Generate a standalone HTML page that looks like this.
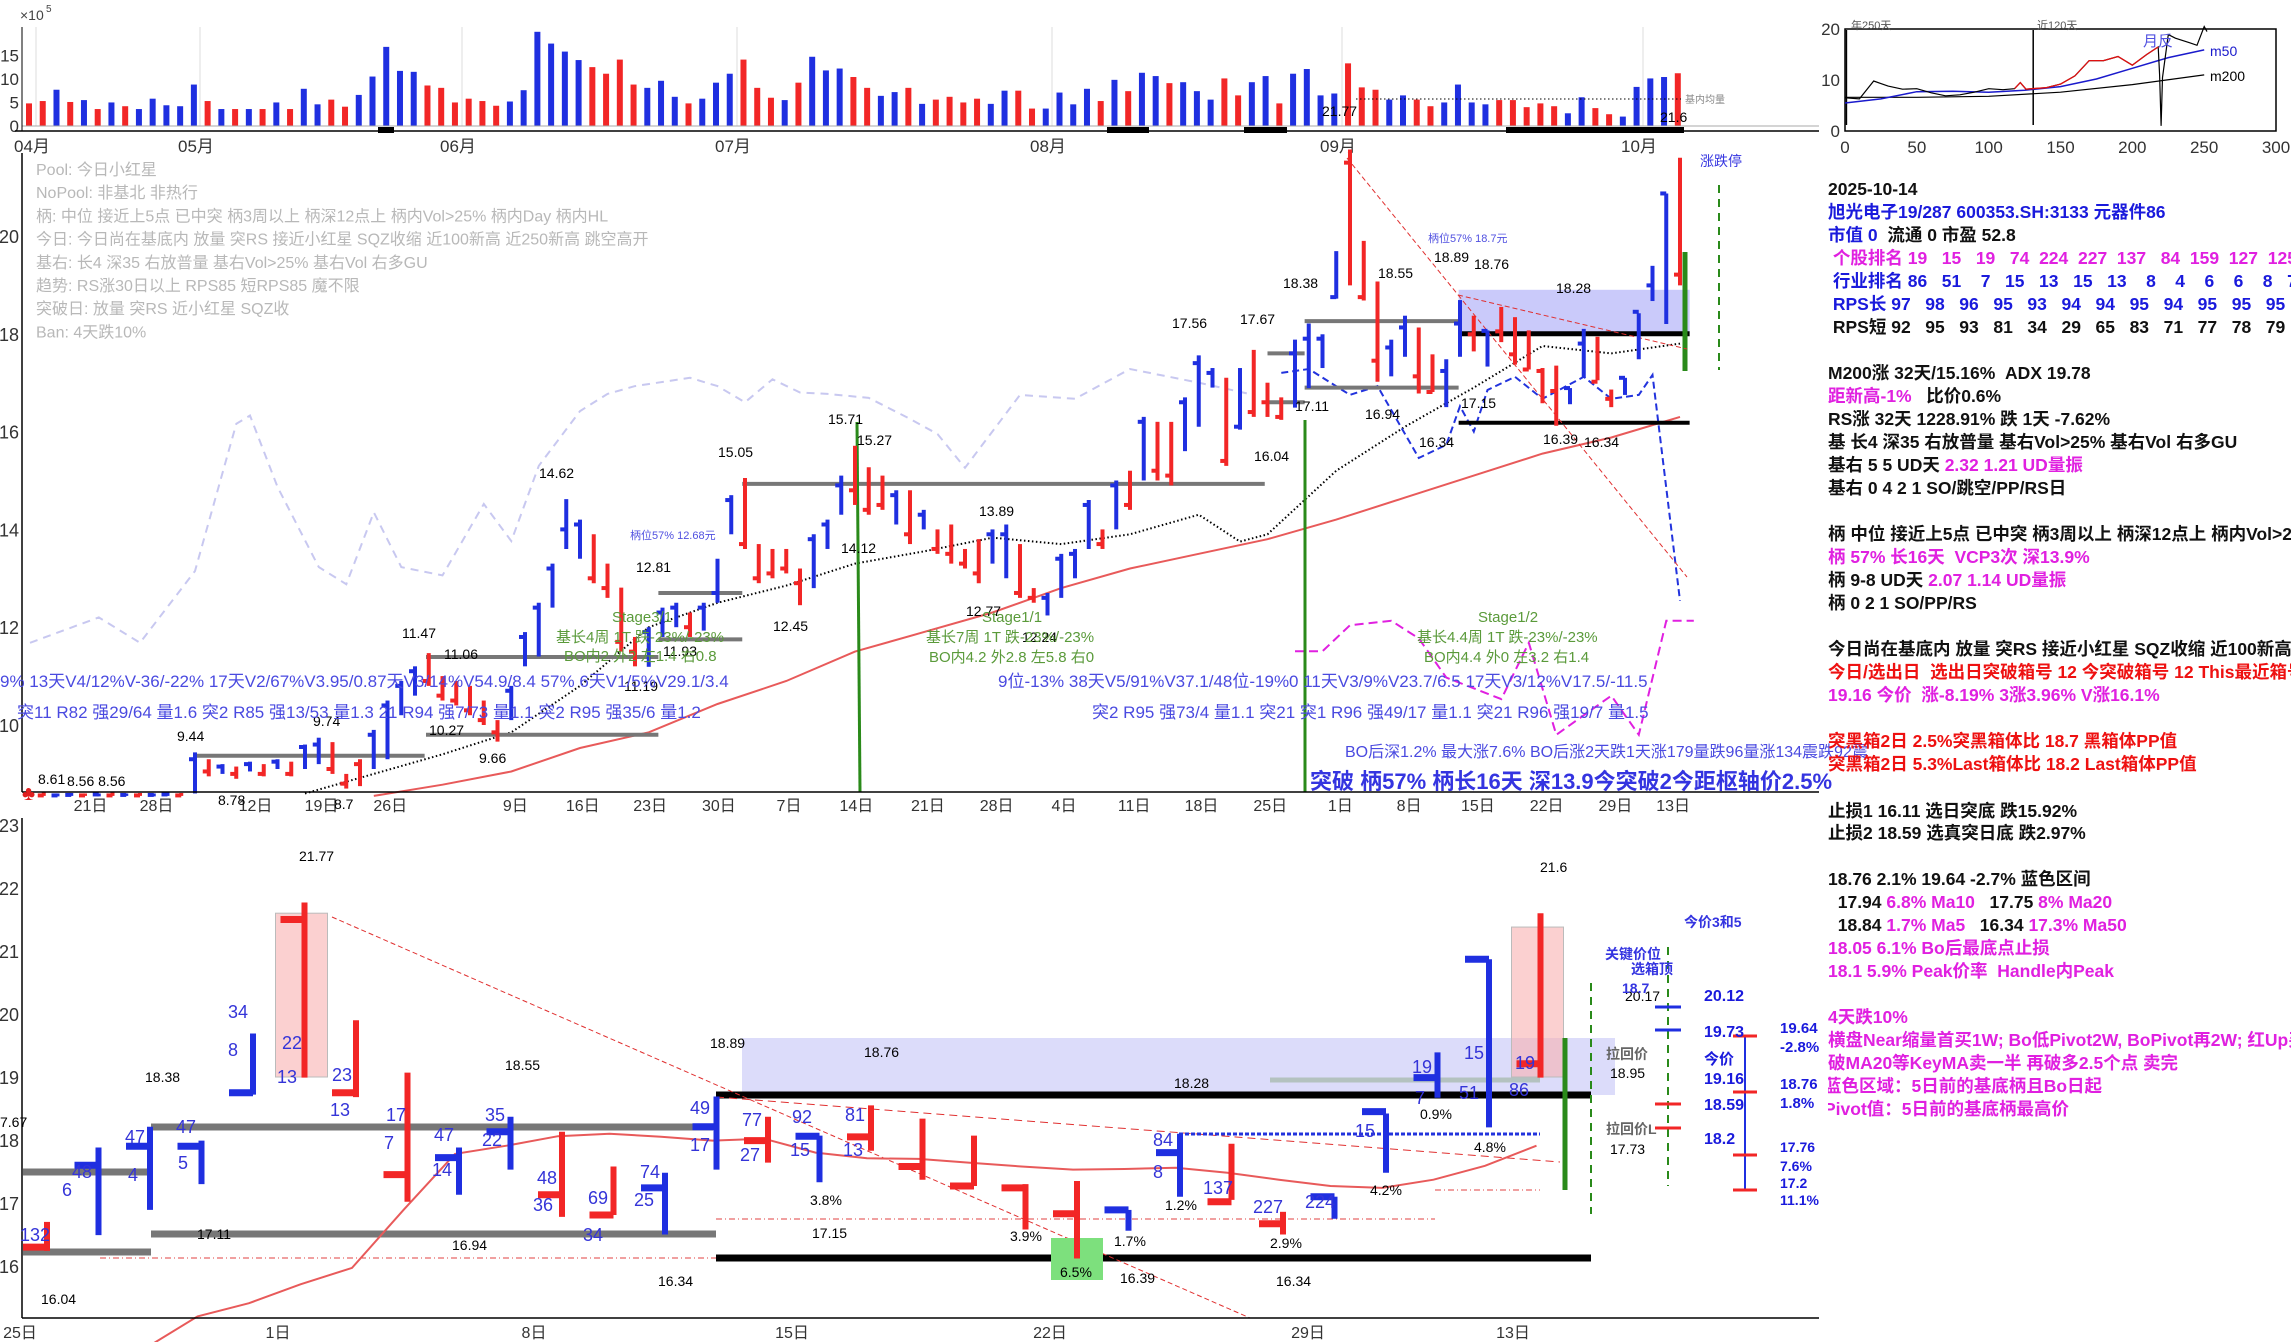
<!DOCTYPE html>
<html><head><meta charset="utf-8">
<style>
html,body{margin:0;padding:0;background:#fff;}
body{width:2291px;height:1342px;overflow:hidden;position:relative;font-family:"Liberation Sans","Noto Sans CJK SC",sans-serif;}
svg{position:absolute;left:0;top:0;}
svg text{font-family:"Liberation Sans","Noto Sans CJK SC",sans-serif;}
#panel{position:absolute;left:1828px;top:0;width:463px;height:1342px;overflow:hidden;}
#panel div{position:absolute;left:0;white-space:nowrap;font-size:17.5px;font-weight:bold;line-height:20px;}
.k{color:#111}.b{color:#1a1adc}.m{color:#e020e0}.r{color:#ee1111}
</style></head>
<body>
<svg id="chart" width="2291" height="1342" viewBox="0 0 2291 1342">
 <g id="vol"></g>
 <g id="main"></g>
 <g id="bot"></g>
 <g id="mini"></g>
</svg>
<div id="panel">
 <div class="k" style="top:179px">2025-10-14</div>
 <div class="b" style="top:202px">旭光电子19/287 600353.SH:3133 元器件86</div>
 <div class="k" style="top:225px"><span class="b">市值 0</span>&nbsp; 流通 0 市盈 52.8</div>
 <div class="m" style="top:248px">&nbsp;个股排名 19 &nbsp; 15 &nbsp; 19 &nbsp; 74 &nbsp;224 &nbsp;227 &nbsp;137 &nbsp; 84 &nbsp;159 &nbsp;127 &nbsp;125 &nbsp;1</div>
 <div class="b" style="top:271px">&nbsp;行业排名 86 &nbsp; 51 &nbsp; &nbsp;7 &nbsp; 15 &nbsp; 13 &nbsp; 15 &nbsp; 13 &nbsp; &nbsp;8 &nbsp; &nbsp;4 &nbsp; &nbsp;6 &nbsp; &nbsp;6 &nbsp; &nbsp;8 &nbsp; 7</div>
 <div class="b" style="top:294px">&nbsp;RPS长 97 &nbsp; 98 &nbsp; 96 &nbsp; 95 &nbsp; 93 &nbsp; 94 &nbsp; 94 &nbsp; 95 &nbsp; 94 &nbsp; 95 &nbsp; 95 &nbsp; 95 &nbsp; 95</div>
 <div class="k" style="top:317px">&nbsp;RPS短 92 &nbsp; 95 &nbsp; 93 &nbsp; 81 &nbsp; 34 &nbsp; 29 &nbsp; 65 &nbsp; 83 &nbsp; 71 &nbsp; 77 &nbsp; 78 &nbsp; 79 &nbsp; 92</div>
 <div class="k" style="top:363px">M200涨 32天/15.16% &nbsp;ADX 19.78</div>
 <div class="k" style="top:386px"><span class="m">距新高-1%</span> &nbsp; 比价0.6%</div>
 <div class="k" style="top:409px">RS涨 32天 1228.91% 跌 1天 -7.62%</div>
 <div class="k" style="top:432px">基 长4 深35 右放普量 基右Vol&gt;25% 基右Vol 右多GU</div>
 <div class="k" style="top:455px">基右 5 5 UD天 <span class="m">2.32 1.21 UD量振</span></div>
 <div class="k" style="top:478px">基右 0 4 2 1 SO/跳空/PP/RS日</div>
 <div class="k" style="top:524px">柄 中位 接近上5点 已中突 柄3周以上 柄深12点上 柄内Vol&gt;25%</div>
 <div class="m" style="top:547px">柄 57% 长16天 &nbsp;VCP3次 深13.9%</div>
 <div class="k" style="top:570px">柄 9-8 UD天 <span class="m">2.07 1.14 UD量振</span></div>
 <div class="k" style="top:593px">柄 0 2 1 SO/PP/RS</div>
 <div class="k" style="top:639px">今日尚在基底内 放量 突RS 接近小红星 SQZ收缩 近100新高</div>
 <div class="r" style="top:662px">今日/选出日 &nbsp;选出日突破箱号 12 今突破箱号 12 This最近箱号</div>
 <div class="m" style="top:685px">19.16 今价 &nbsp;涨-8.19% 3涨3.96% V涨16.1%</div>
 <div class="r" style="top:731px">突黑箱2日 2.5%突黑箱体比 18.7 黑箱体PP值</div>
 <div class="r" style="top:754px">突黑箱2日 5.3%Last箱体比 18.2 Last箱体PP值</div>
 <div class="k" style="top:801px">止损1 16.11 选日突底 跌15.92%</div>
 <div class="k" style="top:823px">止损2 18.59 选真突日底 跌2.97%</div>
 <div class="k" style="top:869px">18.76 2.1% 19.64 -2.7% 蓝色区间</div>
 <div class="k" style="top:892px">&nbsp; 17.94 <span class="m">6.8% Ma10</span> &nbsp; 17.75 <span class="m">8% Ma20</span></div>
 <div class="k" style="top:915px">&nbsp; 18.84 <span class="m">1.7% Ma5</span> &nbsp; 16.34 <span class="m">17.3% Ma50</span></div>
 <div class="m" style="top:938px">18.05 6.1% Bo后最底点止损</div>
 <div class="m" style="top:961px">18.1 5.9% Peak价率 &nbsp;Handle内Peak</div>
 <div class="m" style="top:1007px">4天跌10%</div>
 <div class="m" style="top:1030px">横盘Near缩量首买1W; Bo低Pivot2W, BoPivot再2W; 红Up买</div>
 <div class="m" style="top:1053px">破MA20等KeyMA卖一半 再破多2.5个点 卖完</div>
 <div class="m" style="top:1076px;left:-4px">蓝色区域：5日前的基底柄且Bo日起</div>
 <div class="m" style="top:1099px;left:-4px">Pivot值：5日前的基底柄最高价</div>
</div>
<script>
// ---------- DATA ----------
const volValues=[4.8,5.3,7.7,5.1,5.5,3.6,5,4.2,3.6,5.8,4.4,4.2,8.8,5.3,3.6,3.6,3.6,3.6,5,3.6,7.9,4.6,5.6,4.1,6.6,10.5,16.8,11.7,11.5,8.6,8.1,5,5.8,5.3,4.3,5.2,7.6,20,17.5,15.8,14,12.5,11.1,14.1,8.8,8.1,9.6,6.2,4.8,5.8,9.2,11.1,14.1,8.1,6,5.5,9.2,14.7,11.8,12.2,10.4,8.1,6.4,7.2,8.1,4.7,5.6,6.2,5,5.8,4.7,7.5,7.5,3.7,3.7,7.1,4.6,7.9,5.3,9.8,7.4,11.3,10.6,9.1,9.3,7.4,5.6,10.1,6.5,9.3,10.6,4.8,11.1,12.1,6.5,6.9,13.3,8.2,7.7,5.6,6.5,5.6,4.2,5,8.8,5,4.6,5.5,5.5,4,4.8,4.2,2.7,6.1,3.8,2.5,2,8.3,10.1,10.4,11.2];
const volColors="RRBRBRBRBBBBBRBRBRBRBBRRBBBBBRRRRRRBBBBBBRRRRBBBRBBBRRRBRBBBRRBB"+"RBRRRRBBRRBBBBRBRBBRBBBRRBBRBBBBRRRBBRRBBBBRRRRRBBRRBBBBR";
const volTicks=[0,5,10,15];
const monthNames=["04月","05月","06月","07月","08月","09月","10月"];
const monthX=[36,200,462,737,1052,1342,1643];

const highs=[8.62,8.62,8.6,8.61,8.6,8.6,8.62,8.6,8.61,8.6,8.62,8.61,9.44,9.3,9.2,9.15,9.25,9.2,9.3,9.25,9.6,9.74,9.65,9.0,9.3,9.9,10.5,10.9,11.2,11.47,11.0,10.9,10.8,10.5,10.1,10.8,11.9,12.5,13.3,14.62,14.2,13.9,13.3,12.81,11.8,12.0,12.4,12.5,12.3,12.5,13.4,14.7,15.05,13.7,13.6,13.6,13.2,13.9,14.2,15.1,15.71,15.27,15.1,14.8,14.8,14.4,14.0,14.1,13.6,13.8,14.0,14.1,13.7,12.8,12.7,13.5,13.6,14.6,14.0,15.0,15.2,16.3,16.2,16.2,16.7,17.56,17.3,17.1,17.3,17.67,17.0,16.7,17.88,18.21,17.99,19.69,21.77,19.9,19.07,17.88,18.37,18.13,17.58,17.48,18.69,18.37,18.07,18.55,18.34,18.07,17.30,17.35,16.89,18.10,17.94,16.86,17.10,18.42,19.39,20.87,21.6];
const lows=[8.55,8.55,8.54,8.55,8.55,8.54,8.55,8.55,8.55,8.54,8.55,8.55,8.6,8.95,9.0,8.9,9.05,8.95,9.1,8.95,9.1,9.2,9.0,8.7,8.75,9.1,9.3,10.2,10.6,10.8,10.5,10.4,10.2,10.0,9.66,10.1,11.2,11.4,12.4,13.6,13.4,12.9,12.6,11.5,11.2,11.19,11.8,12.0,11.8,11.93,12.5,13.9,13.6,12.9,13.0,13.1,12.45,12.8,13.6,14.3,14.5,14.3,14.4,14.1,13.7,14.0,13.5,13.3,13.2,12.9,13.3,13.0,12.6,12.5,12.24,12.6,13.0,13.6,13.6,14.0,14.4,15.0,15.0,14.9,15.6,16.1,16.9,15.3,16.04,16.3,16.3,16.24,16.49,16.89,17.3,18.72,18.99,18.68,17.02,17.13,17.53,16.78,16.81,16.5,17.53,17.64,17.33,17.83,17.37,17.27,16.58,16.12,16.56,17.10,17.05,16.5,16.75,17.48,18.67,18.2,18.99];
const closes=[8.58,8.56,8.56,8.57,8.56,8.58,8.56,8.57,8.56,8.57,8.58,8.56,9.3,9.05,9.15,9.0,9.2,9.0,9.25,9.0,9.55,9.6,9.1,8.8,9.2,9.8,10.4,10.8,11.1,10.9,10.6,10.5,10.3,10.1,9.85,10.7,11.8,12.4,13.2,14.0,14.1,13.0,12.8,11.7,11.5,11.9,12.3,12.4,12.0,12.4,12.7,14.6,13.7,13.0,13.1,13.2,12.9,13.8,14.1,14.9,14.8,14.4,14.5,14.7,13.9,14.3,13.6,13.5,13.3,13.1,13.9,13.9,12.7,12.6,12.6,13.4,13.5,14.5,13.7,14.9,14.5,16.2,15.2,15.1,16.6,17.4,17.2,15.4,16.1,16.4,16.6,16.3,17.6,17.9,17.9,18.75,21.5,18.75,17.45,17.72,18.13,17.13,16.81,17.24,18.21,17.99,18.06,18.05,17.58,17.27,17.24,16.83,16.89,17.80,17.02,16.67,17.10,18.45,18.99,20.87,19.21];
const dirs="dduudududuud"+"udududud"+"uuddd"+"uuuu"+"dddddd"+"uuuuuu"+"dddd"+"uuuduuu"+"ddddd"+"uuu"+"ddd"+"ududddd"+"uu"+"dd"+"uuuu"+"dududduuududdd"+"uuuu"+"ddd"+"uu"+"dd"+"uu"+"duddddd"+"uu"+"dd"+"uuuu"+"d";
const maLongDay=[25,30,35,40,45,50,55,60,65,70,75,80,85,90,95,100,105,110,115,120];
const maLongVal=[8.55,8.78,9.05,9.53,9.85,10.43,10.9,11.5,11.9,12.3,12.8,13.2,13.5,13.8,14.2,14.65,15.1,15.55,15.88,16.3];
const maShortDay=[20,25,30,35,40,45,50,55,60,65,70,75,80,85,88,90,95,100,105,110,115,120];
const maShortVal=[8.6,9.0,9.4,9.85,10.8,12.0,12.5,12.85,13.3,13.55,13.83,13.7,13.9,14.3,13.75,13.9,15.2,16.1,16.9,17.75,17.6,17.8];
const rsDay=[0,5,8,12,15,16,18,21,23,25,27,30,33,35,37,40,42,44,48,50,52,54,56,58,61,64,66,68,72,76,80,85,89];
const rsVal=[11.68,12.2,11.68,13.15,16.16,16.33,14.87,13.23,12.88,14.35,13.23,13.06,14.52,13.76,15.3,16.42,16.77,16.93,17.1,16.93,16.6,17.07,16.8,16.77,16.69,16.26,15.95,15.26,16.75,16.67,17.28,17.0,16.75];
const bdDay=[91,93,96,98,101,103,104,105,106,108,110,113,115,117,118,120];
const bdVal=[17.2,17.28,16.75,16.93,15.46,15.73,16.52,16.0,16.85,17.12,16.67,17.12,16.67,16.75,17.16,12.54];
const mgDay=[92,94,96,99,101,103,107,109,111,115,117,119,121];
const mgVal=[11.51,11.51,12.04,12.13,11.77,10.97,10.53,11.68,9.8,10.6,9.8,12.13,12.13];
const mainTicks=[10,12,14,16,18,20];
const dayLabels=["21日","28日","12日","19日","26日","9日","16日","23日","30日","7日","14日","21日","28日","4日","11日","18日","25日","1日","8日","15日","22日","29日","13日"];
const dayLabelDay=[4.4,9.2,16.4,21.2,26.2,35.3,40.2,45.1,50.1,55.2,60.1,65.3,70.3,75.2,80.3,85.2,90.2,95.3,100.3,105.3,110.3,115.3,119.5];
// level lines: [startDay, endDay, price]
const levelStart=[12,28.8,28.8,45.7,45.7,51.8,90,92.7,90,92.7];
const levelEnd=[28.7,45.7,45.7,51.8,51.8,89.8,92.7,103.9,92.7,103.9];
const levelPrice=[9.37,11.39,9.8,12.7,11.75,14.93,17.6,18.26,16.6,16.9];
const boxStart=103.9, boxEnd=120.7, boxTop=18.9, boxPivot=18.0, boxLow=16.18;
const botFirstDay=91;
const botMaVal=[14.0,14.3,14.7,15.2,15.41,15.71,15.97,16.89,17.78,17.91,18.06,18.10,18.05,17.99,18.02,17.80,17.71,17.70,17.64,17.58,17.53,17.54,17.56,17.48,17.37,17.27,17.24,17.37,17.59,17.91];
const botTicks=[16,17,18,19,20,21,22,23];
const botDayLabels=["25日","1日","8日","15日","22日","29日","13日"];
const botDayLabelX=[20,278,534,792,1050,1308,1513];
const miniPriceX=[0,10,20,25,30,40,50,60,70,80,90,100,110,118,122,126,130,140,150,160,170,180,190,200,210,218,219,220,221,225,230,240,245,250,252];
const miniPriceV=[6.5,6.3,9.8,9.3,8.8,8.2,8.3,7.5,6.9,7.1,7.6,8.3,8.1,8.3,9.5,8.2,8.3,8.5,9.2,10.8,13.8,13.8,14.6,12.9,15.0,16.5,11.0,1.0,10.5,18.9,18.2,17.3,16.8,20.5,19.5];
const miniM50X=[0,25,50,75,100,125,150,175,200,225,250];
const miniM50V=[5.5,6.3,7.7,7.8,7.6,8.0,8.7,10.2,12.3,14.4,15.9];
const miniM200X=[0,50,100,150,200,250];
const miniM200V=[6.6,6.6,6.8,7.6,9.1,11.0];
const miniXTicks=[0,50,100,150,200,250,300];
const miniYTicks=[0,10,20];

// ---------- HELPERS ----------
const NS="http://www.w3.org/2000/svg";
function mk(parent,tag,attrs,txt){const e=document.createElementNS(NS,tag);for(const k in attrs)e.setAttribute(k,attrs[k]);if(txt!==undefined)e.textContent=txt;parent.appendChild(e);return e;}
const BLUE="#1f2fe0",RED="#f22626";
const vol=document.getElementById('vol'),main=document.getElementById('main'),bot=document.getElementById('bot'),mini=document.getElementById('mini');
const xV=i=>29+13.74*i, yV=v=>126-v*4.71;
const xM=i=>30+13.75*i, yM=p=>236+(20-p)*48.9;
const xB=k=>43+51.5*k, yB=p=>825+(23-p)*63;
const xN=v=>1845+v*(431/300), yN=v=>131-v*5.1;
let el;

// ---------- VOLUME ----------
monthX.forEach((x,j)=>{
 el=mk(vol,'line',{x1:x,y1:27,x2:x,y2:126,stroke:'#ddd','stroke-width':1});
 
 
 el=mk(vol,'text',{x:x-22,y:152,'font-size':17,fill:'#333'},monthNames[j]);
 
 
});
volValues.forEach((v,i)=>{
 el=mk(vol,'rect',{x:xV(i)-3,y:yV(v),width:6,height:v*4.71,fill:volColors[i]==='R'?RED:BLUE});
 
 
});
volTicks.forEach(t=>{
 el=mk(vol,'text',{x:19,y:yV(t)+6,'font-size':17,fill:'#333','text-anchor':'end'},String(t));
 
 
});
el=mk(vol,'text',{x:20,y:20,'font-size':14,fill:'#444'},'×10');


mk(vol,'text',{x:46,y:12,'font-size':10,fill:'#444'},'5');
mk(vol,'line',{x1:22,y1:126,x2:1819,y2:126,stroke:'#aaa','stroke-width':1});
el=mk(vol,'line',{x1:15,y1:131,x2:1819,y2:131,stroke:'#000','stroke-width':1.5});


mk(vol,'line',{x1:22,y1:27,x2:22,y2:131,stroke:'#000','stroke-width':1});
[[378,394],[1107,1149],[1244,1287],[1506,1684]].forEach(s=>{el=mk(vol,'rect',{x:s[0],y:127,width:s[1]-s[0],height:6,fill:'#000'});});
mk(vol,'line',{x1:1356,y1:99,x2:1681,y2:99,stroke:'#000','stroke-width':1,'stroke-dasharray':'1.5,2.5'});
el=mk(vol,'text',{x:1685,y:103,'font-size':10,fill:'#888'},'基内均量');


mk(vol,'text',{x:1322,y:116,'font-size':14,fill:'#000'},'21.77');
mk(vol,'text',{x:1660,y:122,'font-size':14,fill:'#000'},'21.6');

// ---------- MAIN PRICE ----------
const info=["Pool: 今日小红星","NoPool: 非基北 非热行","柄: 中位 接近上5点 已中突 柄3周以上 柄深12点上 柄内Vol>25% 柄内Day 柄内HL","今日: 今日尚在基底内 放量 突RS 接近小红星 SQZ收缩 近100新高 近250新高 跳空高开","基右: 长4 深35 右放普量 基右Vol>25% 基右Vol 右多GU","趋势: RS涨30日以上 RPS85 短RPS85 魔不限","突破日: 放量 突RS 近小红星 SQZ收","Ban: 4天跌10%"];
info.forEach((t,j)=>{el=mk(main,'text',{x:36,y:175+23.2*j,'font-size':16,fill:'#b8b8b8'},t);});
function poly(parent,days,vals,xf,yf,attrs,name){const pts=days.map((d,j)=>xf(d).toFixed(1)+','+yf(vals[j]).toFixed(1)).join(' ');const a=Object.assign({points:pts,fill:'none'},attrs);const e=mk(parent,'polyline',a);return e;}
poly(main,rsDay,rsVal,xM,yM,{stroke:'#c8c8f0','stroke-width':2,'stroke-dasharray':'8,6'},'rs-line');
poly(main,mgDay,mgVal,xM,yM,{stroke:'#e020e0','stroke-width':2,'stroke-dasharray':'9,5'},'rs-short-line');
poly(main,maLongDay,maLongVal,xM,yM,{stroke:'#e85a5a','stroke-width':2},'ma-long-line');
poly(main,maShortDay,maShortVal,xM,yM,{stroke:'#000','stroke-width':2,'stroke-dasharray':'1.5,2.5'},'ma-short-line');
poly(main,bdDay,bdVal,xM,yM,{stroke:'#2233dd','stroke-width':2,'stroke-dasharray':'7,4'},'blue-dashed-line');
levelPrice.forEach((p,j)=>{
 el=mk(main,'line',{x1:xM(levelStart[j]),y1:yM(p),x2:xM(levelEnd[j]),y2:yM(p),stroke:'#777','stroke-width':4});
 
 
});
el=mk(main,'rect',{x:xM(boxStart),y:yM(boxTop),width:xM(boxEnd)-xM(boxStart),height:yM(boxPivot)-yM(boxTop),fill:'#b8b8f8','fill-opacity':0.75});


el=mk(main,'line',{x1:xM(boxStart),y1:yM(boxPivot),x2:xM(boxEnd),y2:yM(boxPivot),stroke:'#000','stroke-width':5});


el=mk(main,'line',{x1:xM(boxStart),y1:yM(boxLow),x2:xM(boxEnd),y2:yM(boxLow),stroke:'#000','stroke-width':4});


mk(main,'line',{x1:857,y1:422,x2:860,y2:792,stroke:'#2a8a1a','stroke-width':3});
mk(main,'line',{x1:1305,y1:420,x2:1305,y2:792,stroke:'#2a8a1a','stroke-width':3});
mk(main,'line',{x1:1685,y1:252,x2:1685,y2:371,stroke:'#2a8a1a','stroke-width':5});
mk(main,'line',{x1:1719,y1:185,x2:1719,y2:370,stroke:'#2a8a1a','stroke-width':2,'stroke-dasharray':'8,6'});
mk(main,'line',{x1:1347,y1:158,x2:1687,y2:577,stroke:'#e03030','stroke-width':1,'stroke-dasharray':'5,3'});
mk(main,'line',{x1:1458,y1:295,x2:1687,y2:349,stroke:'#e03030','stroke-width':1,'stroke-dasharray':'5,3'});
highs.forEach((h,i)=>{
 const c=dirs[i]==='u'?BLUE:RED;
 el=mk(main,'line',{x1:xM(i),y1:yM(h),x2:xM(i),y2:yM(lows[i]),stroke:c,'stroke-width':4});
 
 
 el=mk(main,'line',{x1:xM(i)-6,y1:yM(closes[i]),x2:xM(i),y2:yM(closes[i]),stroke:c,'stroke-width':4});
 
 
});
el=mk(main,'line',{x1:22,y1:153,x2:22,y2:792,stroke:'#000','stroke-width':1.5});


el=mk(main,'line',{x1:22,y1:792,x2:1819,y2:792,stroke:'#000','stroke-width':1.5});


mainTicks.forEach(t=>{el=mk(main,'text',{x:19,y:yM(t)+7,'font-size':18,fill:'#333','text-anchor':'end'},String(t));});
dayLabels.forEach((t,j)=>{el=mk(main,'text',{x:xM(dayLabelDay[j]),y:811,'font-size':16,fill:'#333','text-anchor':'middle'},t);});
const ann=[["8.61",38,779],["8.56 8.56",67,781],["9.44",177,736],["8.78",218,800],["9.74",313,721],["8.7",334,804],["11.47",402,633],["11.06",444,654],["10.27",429,730],["9.66",479,758],["14.62",539,473],["12.81",636,567],["11.93",663,651],["11.19",624,686],["15.05",718,452],["12.45",773,626],["15.71",828,419],["15.27",857,440],["14.12",841,548],["13.89",979,511],["12.77",966,611],["12.24",1022,637],["17.56",1172,323],["17.67",1240,319],["16.04",1254,456],["18.38",1283,283],["18.55",1378,273],["18.89",1434,257],["18.76",1474,264],["18.28",1556,288],["17.11",1295,406],["16.94",1365,414],["17.15",1461,403],["16.34",1419,442],["16.39",1543,439],["16.34",1584,442]];
ann.forEach(a=>{el=mk(main,'text',{x:a[1],y:a[2]+5,'font-size':14,fill:'#000'},a[0]);});
const green=[["Stage3/1",612,616],["基长4周 1T 跌-23%/-23%",556,636],["BO内2 外2 左1.4 右0.8",564,655],["Stage1/1",982,616],["基长7周 1T 跌-23%/-23%",926,636],["BO内4.2 外2.8 左5.8 右0",929,656],["Stage1/2",1478,616],["基长4.4周 1T 跌-23%/-23%",1417,636],["BO内4.4 外0 左3.2 右1.4",1424,656]];
green.forEach(a=>{el=mk(main,'text',{x:a[1],y:a[2]+6,'font-size':15,fill:'#5a9a3a'},a[0]);});
const blueT=[["9%  13天V4/12%V-36/-22%  17天V2/67%V3.95/0.87天V3/14%V54.9/8.4 57%  6天V1/5%V29.1/3.4",0,687,17],["突11 R82 强29/64 量1.6  突2 R85 强13/53 量1.3 21 R94 强7/73 量1.1     突2 R95 强35/6 量1.2",17,718,17],["9位-13%  38天V5/91%V37.1/48位-19%0  11天V3/9%V23.7/6.5 17天V3/12%V17.5/-11.5",998,687,17],["突2 R95 强73/4 量1.1 突21 突1 R96 强49/17 量1.1 突21 R96 强19/7 量1.5",1092,718,17],["BO后深1.2% 最大涨7.6% BO后涨2天跌1天涨179量跌96量涨134震跌92震",1345,757,16]];
blueT.forEach(a=>{el=mk(main,'text',{x:a[1],y:a[2],'font-size':a[3],fill:'#4a4ae0'},a[0]);});
el=mk(main,'text',{x:1310,y:789,'font-size':22,'font-weight':'bold',fill:'#3434e0'},'突破 柄57% 柄长16天 深13.9今突破2今距枢轴价2.5%');


el=mk(main,'text',{x:1700,y:166,'font-size':14,fill:'#3434e0'},'涨跌停');


mk(main,'text',{x:1428,y:242,'font-size':11,fill:'#5050e0'},'柄位57% 18.7元');
mk(main,'text',{x:630,y:539,'font-size':11,fill:'#5050e0'},'柄位57% 12.68元');
el=mk(main,'text',{x:22,y:800,'font-size':20,fill:'#e02020'},'♣');

// ---------- BOTTOM ZOOM PANEL ----------
el=mk(bot,'rect',{x:742,y:1038,width:1615-742,height:57,fill:'#dcdcfa'});


[[151,713,1127,'#777',7],[23,151,1172,'#777',7],[151,716,1234,'#777',7],[23,151,1252,'#777',7],[716,1591,1095,'#000',7],[716,1591,1258,'#000',7]].forEach(l=>{el=mk(bot,'line',{x1:l[0],y1:l[2],x2:l[1],y2:l[2],stroke:l[3],'stroke-width':l[4]});});
mk(bot,'line',{x1:100,y1:1258,x2:716,y2:1258,stroke:'#e04040','stroke-width':1,'stroke-dasharray':'6,3,1,3'});
mk(bot,'line',{x1:716,y1:1219,x2:1435,y2:1219,stroke:'#e04040','stroke-width':1,'stroke-dasharray':'6,3,1,3'});
mk(bot,'line',{x1:1435,y1:1190,x2:1540,y2:1190,stroke:'#e04040','stroke-width':1,'stroke-dasharray':'6,3,1,3'});
mk(bot,'line',{x1:332,y1:917,x2:1250,y2:1318,stroke:'#e03030','stroke-width':1,'stroke-dasharray':'5,3'});
mk(bot,'line',{x1:716,y1:1097,x2:1560,y2:1162,stroke:'#e03030','stroke-width':1,'stroke-dasharray':'8,5'});
mk(bot,'line',{x1:1179,y1:1134,x2:1540,y2:1134,stroke:'#2233dd','stroke-width':3,'stroke-dasharray':'4,2'});
mk(bot,'line',{x1:1270,y1:1080,x2:1540,y2:1080,stroke:'#9ab09a','stroke-width':5,'stroke-opacity':0.6});
poly(bot,botMaVal.map((v,k)=>k),botMaVal,xB,yB,{stroke:'#e85a5a','stroke-width':2},'zoom-ma-line');
el=mk(bot,'rect',{x:xB(5)-25,y:yB(21.6),width:52,height:yB(19.0)-yB(21.6),fill:'#f8b0b0','fill-opacity':0.6,stroke:'#bbb'});


el=mk(bot,'rect',{x:xB(29)-25,y:yB(21.38),width:52,height:yB(19.0)-yB(21.38),fill:'#f8b0b0','fill-opacity':0.6,stroke:'#bbb'});


el=mk(bot,'rect',{x:1051,y:1238,width:52,height:42,fill:'#7de07d'});


botMaVal.forEach((v,k)=>{
 const i=botFirstDay+k, c=dirs[i]==='u'?BLUE:RED;
 el=mk(bot,'line',{x1:xB(k)+4,y1:yB(highs[i]),x2:xB(k)+4,y2:yB(lows[i]),stroke:c,'stroke-width':6});
 
 
 el=mk(bot,'line',{x1:xB(k)-20,y1:yB(closes[i]),x2:xB(k)+4,y2:yB(closes[i]),stroke:c,'stroke-width':7});
 
 
});
mk(bot,'line',{x1:1565,y1:1038,x2:1565,y2:1190,stroke:'#2a8a1a','stroke-width':5});
mk(bot,'line',{x1:1591,y1:983,x2:1591,y2:1214,stroke:'#2a8a1a','stroke-width':2,'stroke-dasharray':'8,6'});
mk(bot,'line',{x1:1668,y1:947,x2:1668,y2:1186,stroke:'#2a8a1a','stroke-width':2,'stroke-dasharray':'8,6'});
mk(bot,'line',{x1:1745,y1:1036,x2:1745,y2:1190,stroke:BLUE,'stroke-width':2});
[1036,1092,1155,1190].forEach(y=>mk(bot,'line',{x1:1733,y1:y,x2:1757,y2:y,stroke:RED,'stroke-width':3}));
[[1007,BLUE],[1030,BLUE],[1104,RED],[1128,RED]].forEach(t=>mk(bot,'line',{x1:1655,y1:t[0],x2:1681,y2:t[0],stroke:t[1],'stroke-width':3}));
el=mk(bot,'line',{x1:22,y1:818,x2:22,y2:1318,stroke:'#000','stroke-width':1.5});


el=mk(bot,'line',{x1:22,y1:1318,x2:1819,y2:1318,stroke:'#000','stroke-width':1.5});


botTicks.forEach(t=>{el=mk(bot,'text',{x:19,y:yB(t)+7,'font-size':18,fill:'#333','text-anchor':'end'},String(t));});
botDayLabels.forEach((t,j)=>{el=mk(bot,'text',{x:botDayLabelX[j],y:1338,'font-size':16,fill:'#333','text-anchor':'middle'},t);});
const bann=[["21.77",299,856],["18.38",145,1077],["18.55",505,1065],["18.89",710,1043],["18.76",864,1052],["17.11",197,1234],["16.94",452,1245],["17.15",812,1233],["16.34",658,1281],["16.04",41,1299],["7.67",0,1122],["18.28",1174,1083],["16.39",1120,1278],["16.34",1276,1281],["21.6",1540,867],["3.8%",810,1200],["3.9%",1010,1236],["6.5%",1060,1272],["1.7%",1114,1241],["1.2%",1165,1205],["2.9%",1270,1243],["4.2%",1370,1190],["4.8%",1474,1147],["0.9%",1420,1114],["20.17",1625,996],["18.95",1610,1073],["17.73",1610,1149]];
bann.forEach(a=>{el=mk(bot,'text',{x:a[1],y:a[2]+5,'font-size':14,fill:'#000'},a[0]);});
const bnum=[["132",20,1235],["48",72,1172],["6",62,1190],["47",125,1137],["4",128,1175],["47",176,1127],["5",178,1163],["34",228,1012],["8",228,1050],["22",282,1043],["13",277,1077],["23",332,1075],["13",330,1110],["17",386,1115],["7",384,1143],["47",434,1135],["14",432,1170],["35",485,1115],["22",482,1140],["48",537,1178],["36",533,1205],["69",588,1198],["34",583,1235],["74",640,1172],["25",634,1200],["49",690,1108],["17",690,1145],["77",742,1120],["27",740,1155],["92",792,1117],["15",790,1150],["81",845,1115],["13",843,1150],["84",1153,1140],["8",1153,1172],["137",1203,1188],["227",1253,1207],["224",1305,1202],["15",1355,1131],["19",1412,1067],["7",1415,1098],["15",1464,1053],["51",1459,1093],["19",1515,1063],["86",1509,1090]];
bnum.forEach(a=>{el=mk(bot,'text',{x:a[1],y:a[2]+6,'font-size':18,fill:'#3434d8'},a[0]);});
const bside=[["今价3和5",1684,922,14,'#3434e0'],["关键价位",1605,954,14,'#3434e0'],["选箱顶",1631,969,14,'#3434e0'],["18.7",1622,988,14,'#3434e0'],["拉回价",1606,1054,14,'#666'],["拉回价L",1606,1129,14,'#666'],["20.12",1704,996,16,'#1a1adc'],["19.73",1704,1032,16,'#1a1adc'],["今价",1704,1059,15,'#1a1adc'],["19.16",1704,1079,16,'#1a1adc'],["18.59",1704,1105,16,'#1a1adc'],["18.2",1704,1139,16,'#1a1adc'],["19.64",1780,1028,15,'#1a1adc'],["-2.8%",1780,1047,15,'#1a1adc'],["18.76",1780,1084,15,'#1a1adc'],["1.8%",1780,1103,15,'#1a1adc'],["17.76",1780,1147,14,'#1a1adc'],["7.6%",1780,1166,14,'#1a1adc'],["17.2",1780,1183,14,'#1a1adc'],["11.1%",1780,1200,14,'#1a1adc']];
bside.forEach(a=>{el=mk(bot,'text',{x:a[1],y:a[2]+5,'font-size':a[3],'font-weight':'bold',fill:a[4]},a[0]);});

// ---------- MINI CHART ----------
el=mk(mini,'rect',{x:1845,y:29,width:431,height:102,fill:'#fff',stroke:'#000','stroke-width':1.5});


miniXTicks.forEach(t=>{el=mk(mini,'text',{x:xN(t),y:153,'font-size':17,fill:'#333','text-anchor':'middle'},String(t));});
miniYTicks.forEach(t=>{el=mk(mini,'text',{x:1840,y:yN(t)+6,'font-size':17,fill:'#333','text-anchor':'end'},String(t));});
mk(mini,'line',{x1:xN(1),y1:30,x2:xN(1),y2:125,stroke:'#000','stroke-width':1.5});
mk(mini,'line',{x1:xN(131),y1:30,x2:xN(131),y2:125,stroke:'#000','stroke-width':1.5});
mk(mini,'text',{x:1851,y:29,'font-size':11,fill:'#555'},'年250天');
mk(mini,'text',{x:2037,y:29,'font-size':11,fill:'#555'},'近120天');
poly(mini,miniM200X,miniM200V,xN,yN,{stroke:'#000','stroke-width':1.2},'mini-m200-line');
poly(mini,miniM50X,miniM50V,xN,yN,{stroke:'#1a1acc','stroke-width':1.5},'mini-m50-line');
poly(mini,miniPriceX,miniPriceV,xN,yN,{stroke:'#000','stroke-width':1.2},'mini-price-line');
const redIdx=miniPriceX.map((x,j)=>j).filter(j=>miniPriceX[j]>=118&&miniPriceX[j]<=218);
poly(mini,redIdx.map(j=>miniPriceX[j]),redIdx.map(j=>miniPriceV[j]),xN,yN,{stroke:'#e01010','stroke-width':1.3},'mini-price-up-line');
mk(mini,'text',{x:2143,y:46,'font-size':15,fill:'#5050e0'},'月反');
mk(mini,'text',{x:2210,y:56,'font-size':14,fill:'#1a1acc'},'m50');
mk(mini,'text',{x:2210,y:81,'font-size':14,fill:'#000'},'m200');
</script>
</body></html>
